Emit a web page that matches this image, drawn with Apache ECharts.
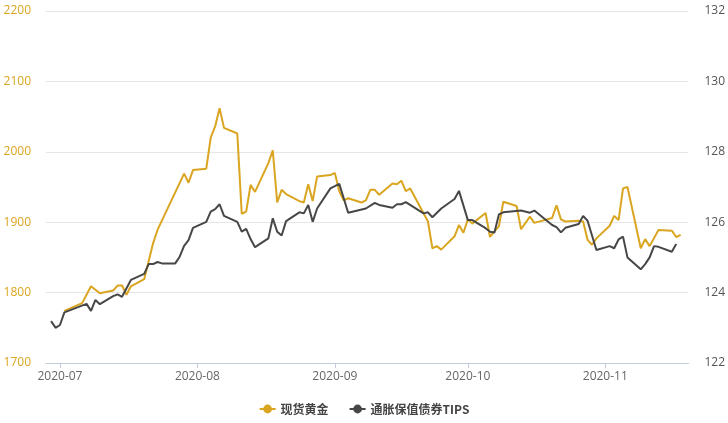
<!DOCTYPE html>
<html>
<head>
<meta charset="utf-8">
<script src="https://cdn.jsdelivr.net/npm/echarts@6/dist/echarts.min.js"></script>
<style>
html,body{margin:0;padding:0;background:#fff;}
#chart{width:728px;height:423px;}
</style>
</head>
<body>
<div id="chart"></div>
<script>
const seriesNames = ['现货黄金', '通胀保值债券TIPS'];

const goldDates = ['2020-07-02','2020-07-06','2020-07-08','2020-07-10','2020-07-13','2020-07-14','2020-07-15','2020-07-16','2020-07-17','2020-07-20','2020-07-22','2020-07-23','2020-07-29','2020-07-30','2020-07-31','2020-08-03','2020-08-04','2020-08-05','2020-08-06','2020-08-07','2020-08-10','2020-08-11','2020-08-12','2020-08-13','2020-08-14','2020-08-17','2020-08-18','2020-08-19','2020-08-20','2020-08-21','2020-08-24','2020-08-25','2020-08-26','2020-08-27','2020-08-28','2020-08-31','2020-09-01','2020-09-02','2020-09-03','2020-09-04','2020-09-07','2020-09-08','2020-09-09','2020-09-10','2020-09-11','2020-09-14','2020-09-15','2020-09-16','2020-09-17','2020-09-18','2020-09-22','2020-09-23','2020-09-24','2020-09-25','2020-09-28','2020-09-29','2020-09-30','2020-10-01','2020-10-02','2020-10-05','2020-10-06','2020-10-07','2020-10-08','2020-10-09','2020-10-12','2020-10-13','2020-10-15','2020-10-16','2020-10-20','2020-10-21','2020-10-22','2020-10-23','2020-10-26','2020-10-27','2020-10-28','2020-10-29','2020-10-30','2020-11-02','2020-11-03','2020-11-04','2020-11-05','2020-11-06','2020-11-09','2020-11-10','2020-11-11','2020-11-13','2020-11-16','2020-11-17','2020-11-18'];
const goldValues = [1774,1785,1809,1799,1803,1810,1810,1797,1809,1819,1870,1889,1969,1956,1974,1976,2020,2036,2062,2034,2026,1912,1915,1953,1943,1984,2002,1928,1946,1940,1930,1928,1954,1930,1965,1967,1970,1944,1931,1934,1928,1931,1946,1946,1939,1955,1954,1959,1944,1948,1901,1863,1866,1861,1880,1896,1885,1904,1898,1913,1879,1887,1894,1929,1923,1890,1908,1899,1906,1924,1904,1901,1902,1901,1875,1868,1877,1895,1909,1903,1948,1950,1863,1876,1866,1889,1888,1879,1882];

const tipsDates = ['2020-06-29','2020-06-30','2020-07-01','2020-07-02','2020-07-07','2020-07-08','2020-07-09','2020-07-10','2020-07-13','2020-07-14','2020-07-15','2020-07-17','2020-07-20','2020-07-21','2020-07-22','2020-07-23','2020-07-24','2020-07-27','2020-07-28','2020-07-29','2020-07-30','2020-07-31','2020-08-03','2020-08-04','2020-08-05','2020-08-06','2020-08-07','2020-08-10','2020-08-11','2020-08-12','2020-08-13','2020-08-14','2020-08-17','2020-08-18','2020-08-19','2020-08-20','2020-08-21','2020-08-24','2020-08-25','2020-08-26','2020-08-27','2020-08-28','2020-08-31','2020-09-02','2020-09-03','2020-09-04','2020-09-08','2020-09-10','2020-09-11','2020-09-14','2020-09-15','2020-09-16','2020-09-17','2020-09-21','2020-09-22','2020-09-23','2020-09-25','2020-09-28','2020-09-29','2020-10-01','2020-10-02','2020-10-05','2020-10-06','2020-10-07','2020-10-08','2020-10-09','2020-10-13','2020-10-15','2020-10-16','2020-10-20','2020-10-21','2020-10-22','2020-10-23','2020-10-26','2020-10-27','2020-10-28','2020-10-30','2020-11-02','2020-11-03','2020-11-04','2020-11-05','2020-11-06','2020-11-09','2020-11-10','2020-11-11','2020-11-12','2020-11-13','2020-11-16','2020-11-17'];
const tipsValues = [123.19,123.0,123.08,123.44,123.68,123.48,123.79,123.67,123.9,123.95,123.88,124.36,124.53,124.81,124.81,124.87,124.83,124.83,125.02,125.33,125.49,125.84,126.01,126.30,126.37,126.51,126.18,126.01,125.73,125.81,125.52,125.29,125.54,126.11,125.73,125.62,126.03,126.28,126.25,126.49,126.01,126.39,126.96,127.09,126.68,126.27,126.39,126.55,126.49,126.41,126.51,126.51,126.57,126.25,126.28,126.14,126.39,126.66,126.89,126.06,126.06,125.83,125.73,125.71,126.22,126.28,126.33,126.27,126.33,125.92,125.86,125.71,125.84,125.95,126.18,126.04,125.21,125.32,125.26,125.51,125.59,125.0,124.66,124.81,125.0,125.32,125.30,125.16,125.38];

const monthTicks = ['2020-07-01','2020-08-01','2020-09-01','2020-10-01','2020-11-01'];
const leftTicks = [1700, 1800, 1900, 2000, 2100, 2200];
const rightTicks = [122, 124, 126, 128, 130, 132];

function ts(s) { const p = s.split('-').map(Number); return new Date(p[0], p[1]-1, p[2]).getTime(); }
function fmtMonth(v) { const d = new Date(v); return d.getFullYear() + '-' + String(d.getMonth()+1).padStart(2, '0'); }
const dayMs = 86400000;
const axisMin = ts('2020-07-01') - 3.15 * dayMs;
const axisMax = ts('2020-07-01') + 141.75 * dayMs;

const GOLD = '#DAA520';
const GRAY = '#474747';

const chart = echarts.init(document.getElementById('chart'));
chart.setOption({
  animation: false,
  textStyle: { fontFamily: '"Open Sans", "Noto Sans CJK SC", sans-serif' },
  grid: { left: 46, right: 39, top: 11, bottom: 60, containLabel: false },
  legend: {
    bottom: 3, left: 'center',
    itemWidth: 16, itemHeight: 11, itemGap: 20,
    textStyle: { color: '#444', fontSize: 12, fontWeight: 'bold', fontFamily: '"Noto Sans CJK SC", sans-serif' },
    data: seriesNames
  },
  xAxis: {
    type: 'value',
    min: axisMin, max: axisMax, scale: true,
    axisLine: { lineStyle: { color: '#C2CCDD' } },
    axisTick: { show: true, length: 5, lineStyle: { color: '#C2CCDD' }, customValues: monthTicks.map(ts) },
    axisLabel: {
      color: '#666', fontSize: 12, margin: 8,
      customValues: monthTicks.map(ts),
      formatter: v => fmtMonth(v)
    },
    splitLine: { show: false }
  },
  yAxis: [
    {
      type: 'value', min: leftTicks[0], max: leftTicks[leftTicks.length-1], interval: 100,
      axisLine: { show: false }, axisTick: { show: false },
      axisLabel: { color: GOLD, fontSize: 12, margin: 15, formatter: v => String(v) },
      splitLine: { lineStyle: { color: '#E6E6E6' } }
    },
    {
      type: 'value', min: rightTicks[0], max: rightTicks[rightTicks.length-1], interval: 2,
      axisLine: { show: false }, axisTick: { show: false },
      axisLabel: { color: '#555', fontSize: 12, margin: 16, formatter: v => String(v) },
      splitLine: { show: false }
    }
  ],
  series: [
    {
      name: seriesNames[0], type: 'line', yAxisIndex: 0,
      showSymbol: false, symbol: 'circle', symbolSize: 6,
      lineStyle: { color: GOLD, width: 2 }, itemStyle: { color: GOLD },
      data: goldDates.map((d, i) => [ts(d), goldValues[i]])
    },
    {
      name: seriesNames[1], type: 'line', yAxisIndex: 1,
      showSymbol: false, symbol: 'circle', symbolSize: 6,
      lineStyle: { color: GRAY, width: 2 }, itemStyle: { color: GRAY },
      data: tipsDates.map((d, i) => [ts(d), tipsValues[i]])
    }
  ]
});
</script>
</body>
</html>
